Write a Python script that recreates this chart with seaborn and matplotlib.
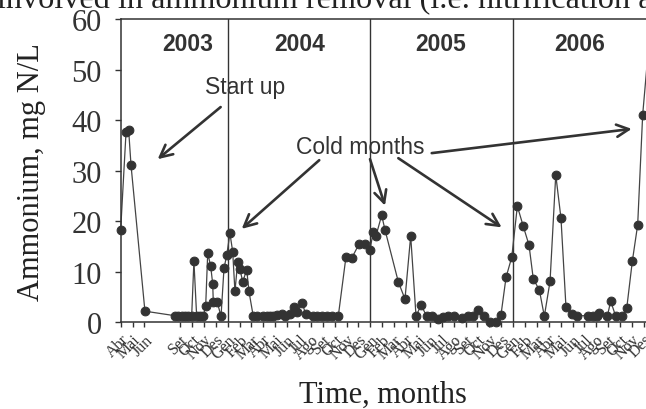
import matplotlib
matplotlib.use('Agg')
import pandas as pd
import matplotlib.pyplot as plt
import seaborn as sns

# Sampling time in months counted from April 2003 (0 = Abr 2003)
month = [0.0, 0.45, 0.67, 0.87, 2.04, 4.57, 4.84, 5.13, 5.41, 5.69, 5.97, 6.16,
         6.39, 6.67, 6.95, 7.15, 7.32, 7.57, 7.74, 7.79, 8.12, 8.44, 8.69, 8.92,
         9.19, 9.42, 9.61, 9.84, 10.03, 10.26, 10.60, 10.79, 11.15, 11.44, 11.99,
         12.28, 12.56, 12.83, 13.12, 13.54, 13.82, 14.24, 14.58, 14.80, 15.27,
         15.56, 16.20, 16.48, 16.96, 17.38, 17.80, 18.30, 18.95, 19.43, 20.07,
         20.55, 20.97, 21.24, 21.47, 21.95, 22.23, 23.35, 23.91, 24.39, 24.84,
         25.26, 25.74, 26.16, 26.66, 27.13, 27.55, 28.06, 28.73, 29.18, 29.66,
         30.08, 30.58, 31.06, 31.54, 31.98, 32.41, 32.89, 33.36, 33.86, 34.34,
         34.70, 35.21, 35.63, 36.11, 36.59, 37.03, 37.45, 37.93, 38.40, 39.33,
         39.75, 40.03, 40.25, 40.93, 41.21, 41.63, 42.14, 42.56, 43.03, 43.48,
         43.90, 44.60]
ammonium = [18.3, 37.6, 38.1, 31.1, 2.2, 1.3, 1.2, 1.2, 1.2, 1.2, 1.2, 12.1,
            1.2, 1.2, 1.2, 3.3, 13.7, 11.1, 7.6, 4.0, 4.0, 1.2, 10.7, 13.3,
            17.6, 14.0, 6.1, 11.9, 10.6, 8.0, 10.4, 6.1, 1.2, 1.2, 1.2,
            1.2, 1.3, 1.3, 1.5, 1.6, 1.2, 1.6, 3.1, 2.1, 3.8,
            1.6, 1.3, 1.2, 1.2, 1.2, 1.2, 1.2, 13.0, 12.7, 15.6,
            15.6, 14.4, 17.9, 17.1, 21.2, 18.3, 8.0, 4.6, 17.1, 1.2,
            3.4, 1.2, 1.3, 0.7, 1.0, 1.2, 1.2, 0.8, 1.2, 1.2,
            2.4, 1.2, 0.1, 0.1, 1.4, 8.9, 12.9, 23.0, 19.0, 15.3,
            8.6, 6.4, 1.2, 8.1, 29.2, 20.6, 3.0, 1.6, 1.3, 1.3,
            1.2, 1.3, 1.8, 1.2, 4.2, 1.2, 1.2, 2.8, 12.1, 19.3,
            41.1, 60.0]

tick_months = [0, 1, 2, 5, 6, 7, 8, 9, 10, 11, 12, 13, 14, 15, 16, 17, 18, 19,
               20, 21, 22, 23, 24, 25, 26, 27, 28, 29, 30, 31, 32, 33, 34, 35,
               36, 37, 38, 39, 40, 41, 42, 43, 44]
tick_labels = ['Abr', 'Mai', 'Jun', 'Set', 'Oct', 'Nov', 'Des',
               'Gen', 'Feb', 'Mar', 'Abr', 'Mai', 'Jun', 'Jul', 'Ago', 'Set', 'Oct', 'Nov', 'Des',
               'Gen', 'Feb', 'Mar', 'Abr', 'Mai', 'Jun', 'Jul', 'Ago', 'Set', 'Oct', 'Nov', 'Des',
               'Gen', 'Feb', 'Mar', 'Abr', 'Mai', 'Jun', 'Jul', 'Ago', 'Set', 'Oct', 'Nov', 'Des']

years = ['2003', '2004', '2005', '2006']
year_label_x = [5.66, 15.08, 26.94, 38.63]
year_start = [9, 21, 33]   # January of 2004, 2005, 2006

df = pd.DataFrame({'month': month, 'ammonium': ammonium})

sns.set_style('ticks')
plt.rcParams['font.family'] = ['Liberation Serif', 'DejaVu Serif']
dark = '#333333'

fig = plt.figure(figsize=(6.46, 4.10), dpi=100)
ax = fig.add_axes([0.1868, 0.2115, 1 - 0.1868, 0.7390])

sns.lineplot(data=df, x='month', y='ammonium', ax=ax, color='#444444',
             linewidth=0.9, marker='o', markersize=6.3, markeredgecolor=dark,
             markerfacecolor=dark, clip_on=False, sort=False)

for x in year_start:
    ax.axvline(x, color=dark, linewidth=1.0, zorder=1)
for name, x in zip(years, year_label_x):
    ax.text(x, 55.3, name, ha='center', va='center', fontsize=16.5,
            fontweight='bold', family='Liberation Sans', color=dark)

arrow = dict(arrowstyle='->', color=dark, lw=1.9, mutation_scale=22)
ax.annotate('Start up', xy=(3.11, 32.3), xytext=(10.45, 46.6), ha='center',
            va='center', fontsize=16.5, family='Liberation Sans', color=dark,
            arrowprops=dict(arrow, shrinkA=6, shrinkB=0))
ax.text(20.17, 34.9, 'Cold months', ha='center', va='center', fontsize=16.5,
        family='Liberation Sans', color=dark)
for tail, head in [((16.70, 32.1), (10.18, 18.5)), ((20.97, 32.3), (22.23, 23.1)),
                   ((23.35, 32.5), (32.04, 18.8)), ((26.16, 33.5), (42.98, 38.3))]:
    ax.annotate('', xy=head, xytext=tail,
                arrowprops=dict(arrow, shrinkA=0, shrinkB=0))

ax.set_xlim(0, 44.18)
ax.set_ylim(0, 60)
ax.set_yticks(range(0, 61, 10))
ax.set_xticks(tick_months)
ax.set_xticklabels(tick_labels, rotation=45, ha='right', rotation_mode='anchor',
                   fontsize=11.5)
ax.tick_params(axis='y', labelsize=22, length=4.5, width=1, pad=9, colors=dark)
ax.tick_params(axis='x', length=3.5, width=1, pad=3, colors=dark)
for side in ['left', 'bottom', 'top']:
    ax.spines[side].set_color(dark)
    ax.spines[side].set_linewidth(1.1)
ax.spines['right'].set_visible(False)

ax.set_ylabel('Ammonium, mg N/L', fontsize=22, color='#222222')
ax.yaxis.set_label_coords(-0.142, 0.5)
ax.set_xlabel('Time, months', fontsize=22, color='#222222')
ax.xaxis.set_label_coords(0.5, -0.19)

fig.text(-0.004, 0.981, 'involved in ammonium removal (i.e. nitrification and',
         fontsize=23.2, color='#222222', va='baseline', ha='left')

fig.savefig('out.png', dpi=100)
